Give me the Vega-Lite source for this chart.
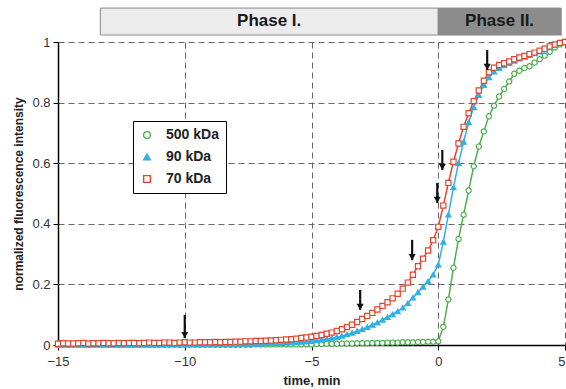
{
  "$schema": "https://vega.github.io/schema/vega-lite/v6.json",
  "width": 507,
  "height": 303,
  "autosize": {"type": "none"},
  "padding": {"left": 58, "top": 42, "right": 1, "bottom": 44},
  "background": "white",
  "config": {
    "view": {"stroke": null},
    "font": "Liberation Sans",
    "axis": {
      "labelFont": "Liberation Sans",
      "titleFont": "Liberation Sans",
      "labelFontSize": 13,
      "labelColor": "#333333",
      "titleColor": "#222222",
      "titleFontWeight": "bold",
      "domainColor": "#000000",
      "domainWidth": 1.5,
      "tickColor": "#000000",
      "tickWidth": 1,
      "tickSize": 5,
      "gridColor": "#666666",
      "gridDash": [6, 4],
      "gridWidth": 1,
      "gridOpacity": 1
    }
  },
  "datasets": {
    "curves": [
      {"t": -15, "500 kDa": 0.001, "90 kDa": 0.001, "70 kDa": 0.004},
      {"t": -14.8, "500 kDa": 0.001, "90 kDa": 0.001, "70 kDa": 0.006},
      {"t": -14.6, "500 kDa": 0.001, "90 kDa": 0.001, "70 kDa": 0.005},
      {"t": -14.4, "500 kDa": 0.001, "90 kDa": 0.001, "70 kDa": 0.005},
      {"t": -14.2, "500 kDa": 0.001, "90 kDa": 0.001, "70 kDa": 0.006},
      {"t": -14, "500 kDa": 0.001, "90 kDa": 0.001, "70 kDa": 0.007},
      {"t": -13.8, "500 kDa": 0.001, "90 kDa": 0.001, "70 kDa": 0.005},
      {"t": -13.6, "500 kDa": 0.001, "90 kDa": 0.001, "70 kDa": 0.006},
      {"t": -13.4, "500 kDa": 0.001, "90 kDa": 0.001, "70 kDa": 0.006},
      {"t": -13.2, "500 kDa": 0.001, "90 kDa": 0.001, "70 kDa": 0.007},
      {"t": -13, "500 kDa": 0.001, "90 kDa": 0.001, "70 kDa": 0.006},
      {"t": -12.8, "500 kDa": 0.001, "90 kDa": 0.001, "70 kDa": 0.006},
      {"t": -12.6, "500 kDa": 0.001, "90 kDa": 0.001, "70 kDa": 0.007},
      {"t": -12.4, "500 kDa": 0.001, "90 kDa": 0.001, "70 kDa": 0.006},
      {"t": -12.2, "500 kDa": 0.001, "90 kDa": 0.001, "70 kDa": 0.007},
      {"t": -12, "500 kDa": 0.001, "90 kDa": 0.001, "70 kDa": 0.007},
      {"t": -11.8, "500 kDa": 0.001, "90 kDa": 0.001, "70 kDa": 0.006},
      {"t": -11.6, "500 kDa": 0.001, "90 kDa": 0.001, "70 kDa": 0.007},
      {"t": -11.4, "500 kDa": 0.001, "90 kDa": 0.001, "70 kDa": 0.008},
      {"t": -11.2, "500 kDa": 0.001, "90 kDa": 0.001, "70 kDa": 0.007},
      {"t": -11, "500 kDa": 0.001, "90 kDa": 0.001, "70 kDa": 0.007},
      {"t": -10.8, "500 kDa": 0.001, "90 kDa": 0.002, "70 kDa": 0.008},
      {"t": -10.6, "500 kDa": 0.001, "90 kDa": 0.002, "70 kDa": 0.008},
      {"t": -10.4, "500 kDa": 0.001, "90 kDa": 0.002, "70 kDa": 0.007},
      {"t": -10.2, "500 kDa": 0.001, "90 kDa": 0.002, "70 kDa": 0.008},
      {"t": -10, "500 kDa": 0.001, "90 kDa": 0.002, "70 kDa": 0.009},
      {"t": -9.8, "500 kDa": 0.001, "90 kDa": 0.002, "70 kDa": 0.008},
      {"t": -9.6, "500 kDa": 0.001, "90 kDa": 0.002, "70 kDa": 0.008},
      {"t": -9.4, "500 kDa": 0.001, "90 kDa": 0.002, "70 kDa": 0.009},
      {"t": -9.2, "500 kDa": 0.001, "90 kDa": 0.002, "70 kDa": 0.009},
      {"t": -9, "500 kDa": 0.001, "90 kDa": 0.002, "70 kDa": 0.009},
      {"t": -8.8, "500 kDa": 0.001, "90 kDa": 0.002, "70 kDa": 0.01},
      {"t": -8.6, "500 kDa": 0.001, "90 kDa": 0.002, "70 kDa": 0.009},
      {"t": -8.4, "500 kDa": 0.001, "90 kDa": 0.002, "70 kDa": 0.01},
      {"t": -8.2, "500 kDa": 0.001, "90 kDa": 0.002, "70 kDa": 0.01},
      {"t": -8, "500 kDa": 0.001, "90 kDa": 0.002, "70 kDa": 0.011},
      {"t": -7.8, "500 kDa": 0.001, "90 kDa": 0.003, "70 kDa": 0.011},
      {"t": -7.6, "500 kDa": 0.001, "90 kDa": 0.003, "70 kDa": 0.012},
      {"t": -7.4, "500 kDa": 0.001, "90 kDa": 0.003, "70 kDa": 0.012},
      {"t": -7.2, "500 kDa": 0.002, "90 kDa": 0.003, "70 kDa": 0.013},
      {"t": -7, "500 kDa": 0.002, "90 kDa": 0.004, "70 kDa": 0.013},
      {"t": -6.8, "500 kDa": 0.002, "90 kDa": 0.005, "70 kDa": 0.014},
      {"t": -6.6, "500 kDa": 0.002, "90 kDa": 0.005, "70 kDa": 0.015},
      {"t": -6.4, "500 kDa": 0.002, "90 kDa": 0.006, "70 kDa": 0.016},
      {"t": -6.2, "500 kDa": 0.002, "90 kDa": 0.006, "70 kDa": 0.017},
      {"t": -6, "500 kDa": 0.002, "90 kDa": 0.007, "70 kDa": 0.018},
      {"t": -5.8, "500 kDa": 0.002, "90 kDa": 0.008, "70 kDa": 0.019},
      {"t": -5.6, "500 kDa": 0.002, "90 kDa": 0.009, "70 kDa": 0.021},
      {"t": -5.4, "500 kDa": 0.002, "90 kDa": 0.01, "70 kDa": 0.023},
      {"t": -5.2, "500 kDa": 0.002, "90 kDa": 0.011, "70 kDa": 0.025},
      {"t": -5, "500 kDa": 0.002, "90 kDa": 0.013, "70 kDa": 0.027},
      {"t": -4.8, "500 kDa": 0.003, "90 kDa": 0.015, "70 kDa": 0.03},
      {"t": -4.6, "500 kDa": 0.003, "90 kDa": 0.017, "70 kDa": 0.033},
      {"t": -4.4, "500 kDa": 0.004, "90 kDa": 0.02, "70 kDa": 0.037},
      {"t": -4.2, "500 kDa": 0.004, "90 kDa": 0.023, "70 kDa": 0.041},
      {"t": -4, "500 kDa": 0.004, "90 kDa": 0.026, "70 kDa": 0.046},
      {"t": -3.8, "500 kDa": 0.005, "90 kDa": 0.03, "70 kDa": 0.052},
      {"t": -3.6, "500 kDa": 0.005, "90 kDa": 0.035, "70 kDa": 0.059},
      {"t": -3.4, "500 kDa": 0.005, "90 kDa": 0.04, "70 kDa": 0.067},
      {"t": -3.2, "500 kDa": 0.006, "90 kDa": 0.046, "70 kDa": 0.076},
      {"t": -3, "500 kDa": 0.006, "90 kDa": 0.052, "70 kDa": 0.086},
      {"t": -2.8, "500 kDa": 0.006, "90 kDa": 0.059, "70 kDa": 0.096},
      {"t": -2.6, "500 kDa": 0.007, "90 kDa": 0.066, "70 kDa": 0.106},
      {"t": -2.4, "500 kDa": 0.007, "90 kDa": 0.074, "70 kDa": 0.117},
      {"t": -2.2, "500 kDa": 0.007, "90 kDa": 0.083, "70 kDa": 0.129},
      {"t": -2, "500 kDa": 0.008, "90 kDa": 0.092, "70 kDa": 0.141},
      {"t": -1.8, "500 kDa": 0.008, "90 kDa": 0.101, "70 kDa": 0.154},
      {"t": -1.6, "500 kDa": 0.008, "90 kDa": 0.111, "70 kDa": 0.169},
      {"t": -1.4, "500 kDa": 0.009, "90 kDa": 0.123, "70 kDa": 0.186},
      {"t": -1.2, "500 kDa": 0.009, "90 kDa": 0.138, "70 kDa": 0.206},
      {"t": -1, "500 kDa": 0.009, "90 kDa": 0.156, "70 kDa": 0.232},
      {"t": -0.8, "500 kDa": 0.01, "90 kDa": 0.174, "70 kDa": 0.26},
      {"t": -0.6, "500 kDa": 0.01, "90 kDa": 0.192, "70 kDa": 0.285},
      {"t": -0.4, "500 kDa": 0.011, "90 kDa": 0.21, "70 kDa": 0.312},
      {"t": -0.2, "500 kDa": 0.011, "90 kDa": 0.232, "70 kDa": 0.346},
      {"t": 0, "500 kDa": 0.012, "90 kDa": 0.265, "70 kDa": 0.39},
      {"t": 0.2, "500 kDa": 0.06, "90 kDa": 0.34, "70 kDa": 0.46},
      {"t": 0.4, "500 kDa": 0.15, "90 kDa": 0.43, "70 kDa": 0.535},
      {"t": 0.6, "500 kDa": 0.255, "90 kDa": 0.52, "70 kDa": 0.605},
      {"t": 0.8, "500 kDa": 0.35, "90 kDa": 0.6, "70 kDa": 0.665},
      {"t": 1, "500 kDa": 0.43, "90 kDa": 0.67, "70 kDa": 0.72},
      {"t": 1.2, "500 kDa": 0.51, "90 kDa": 0.735, "70 kDa": 0.765},
      {"t": 1.4, "500 kDa": 0.59, "90 kDa": 0.785, "70 kDa": 0.805},
      {"t": 1.6, "500 kDa": 0.655, "90 kDa": 0.825, "70 kDa": 0.84},
      {"t": 1.8, "500 kDa": 0.705, "90 kDa": 0.858, "70 kDa": 0.872},
      {"t": 2, "500 kDa": 0.755, "90 kDa": 0.883, "70 kDa": 0.9},
      {"t": 2.2, "500 kDa": 0.79, "90 kDa": 0.902, "70 kDa": 0.915},
      {"t": 2.4, "500 kDa": 0.82, "90 kDa": 0.914, "70 kDa": 0.924},
      {"t": 2.6, "500 kDa": 0.845, "90 kDa": 0.923, "70 kDa": 0.93},
      {"t": 2.8, "500 kDa": 0.87, "90 kDa": 0.93, "70 kDa": 0.936},
      {"t": 3, "500 kDa": 0.895, "90 kDa": 0.938, "70 kDa": 0.943},
      {"t": 3.2, "500 kDa": 0.905, "90 kDa": 0.945, "70 kDa": 0.949},
      {"t": 3.4, "500 kDa": 0.914, "90 kDa": 0.951, "70 kDa": 0.954},
      {"t": 3.6, "500 kDa": 0.92, "90 kDa": 0.957, "70 kDa": 0.96},
      {"t": 3.8, "500 kDa": 0.932, "90 kDa": 0.962, "70 kDa": 0.965},
      {"t": 4, "500 kDa": 0.943, "90 kDa": 0.968, "70 kDa": 0.971},
      {"t": 4.2, "500 kDa": 0.955, "90 kDa": 0.975, "70 kDa": 0.978},
      {"t": 4.4, "500 kDa": 0.968, "90 kDa": 0.982, "70 kDa": 0.985},
      {"t": 4.6, "500 kDa": 0.982, "90 kDa": 0.99, "70 kDa": 0.992},
      {"t": 4.8, "500 kDa": 0.992, "90 kDa": 0.996, "70 kDa": 0.997},
      {"t": 5, "500 kDa": 1, "90 kDa": 1, "70 kDa": 1}
    ],
    "arrows": [
      {"t": -10, "top": 0.099, "tip": 0.023},
      {"t": -3.08, "top": 0.182, "tip": 0.116},
      {"t": -1.03, "top": 0.347, "tip": 0.28},
      {"t": -0.04, "top": 0.535, "tip": 0.469},
      {"t": 0.16, "top": 0.644, "tip": 0.578},
      {"t": 1.93, "top": 0.974, "tip": 0.908}
    ],
    "phases": [
      {"phase": "Phase I.", "start": -13.33, "end": 0, "mid": -6.67},
      {"phase": "Phase II.", "start": 0, "end": 4.85, "mid": 2.42}
    ]
  },
  "layer": [
    {
      "data": {"name": "curves"},
      "transform": [{"fold": ["500 kDa", "90 kDa", "70 kDa"], "as": ["series", "value"]}],
      "layer": [
        {
          "mark": {"type": "line", "strokeWidth": 1.5},
          "encoding": {
            "x": {
              "field": "t", "type": "quantitative",
              "scale": {"domain": [-15, 5], "nice": false},
              "axis": {"values": [-15, -10, -5, 0, 5], "grid": true, "title": "time, min", "titleFontSize": 13, "labelPadding": 5, "titlePadding": 6, "labelFlush": false, "labelAlign": {"expr": "datum.value == 5 ? 'right' : 'center'"}}
            },
            "y": {
              "field": "value", "type": "quantitative",
              "scale": {"domain": [0, 1], "nice": false},
              "axis": {"values": [0, 0.2, 0.4, 0.6, 0.8, 1], "format": "~g", "grid": true, "title": "normalized fluorescence intensity", "titleFontSize": 12, "labelPadding": 3, "titlePadding": 6}
            },
            "stroke": {"field": "series", "type": "nominal", "scale": {"domain": ["500 kDa", "90 kDa", "70 kDa"], "range": ["#4faf4f", "#2fb0e6", "#e2452e"]}},
            "order": {"field": "t", "type": "quantitative"}
          }
        },
        {
          "mark": {"type": "point", "size": 27, "strokeWidth": 1.2, "opacity": 1},
          "encoding": {
            "x": {"field": "t", "type": "quantitative", "title": "time, min"},
            "y": {"field": "value", "type": "quantitative", "title": "normalized fluorescence intensity"},
            "stroke": {
              "field": "series", "type": "nominal",
              "scale": {"domain": ["500 kDa", "90 kDa", "70 kDa"], "range": ["#4faf4f", "#2fb0e6", "#e2452e"]},
              "legend": {
                "orient": "none", "legendX": 75, "legendY": 79, "title": null,
                "strokeColor": "#000000", "fillColor": "#ffffff", "padding": 7,
                "labelFont": "Liberation Sans", "labelFontWeight": "bold", "labelFontSize": 14, "labelColor": "#222222",
                "symbolSize": 45, "symbolStrokeWidth": 1.4, "labelOffset": 12, "rowPadding": 8
              }
            },
            "fill": {"field": "series", "type": "nominal", "scale": {"domain": ["500 kDa", "90 kDa", "70 kDa"], "range": ["#ffffff", "#2fb0e6", "#ffffff"]}, "legend": null},
            "shape": {"field": "series", "type": "nominal", "scale": {"domain": ["500 kDa", "90 kDa", "70 kDa"], "range": ["circle", "triangle-up", "square"]}, "legend": null}
          }
        }
      ]
    },
    {
      "data": {"name": "phases"},
      "transform": [{"filter": {"field": "phase", "equal": "Phase I."}}],
      "mark": {"type": "rect", "stroke": "#8a8a8a", "strokeWidth": 1, "fill": "#ececec"},
      "encoding": {
        "x": {"field": "start", "type": "quantitative", "title": "time, min"},
        "x2": {"field": "end"},
        "y": {"datum": 1.112, "type": "quantitative", "title": "normalized fluorescence intensity"},
        "y2": {"datum": 1.023}
      }
    },
    {
      "data": {"name": "phases"},
      "transform": [{"filter": {"field": "phase", "equal": "Phase II."}}],
      "mark": {"type": "rect", "stroke": "#8a8a8a", "strokeWidth": 1, "fill": "#8c8c8c"},
      "encoding": {
        "x": {"field": "start", "type": "quantitative", "title": "time, min"},
        "x2": {"field": "end"},
        "y": {"datum": 1.112, "type": "quantitative", "title": "normalized fluorescence intensity"},
        "y2": {"datum": 1.023}
      }
    },
    {
      "data": {"name": "phases"},
      "mark": {"type": "text", "fontSize": 17, "fontWeight": "bold", "color": "#1a1a1a", "baseline": "middle", "align": "center", "font": "Liberation Sans"},
      "encoding": {
        "x": {"field": "mid", "type": "quantitative", "title": "time, min"},
        "y": {"datum": 1.068, "type": "quantitative", "title": "normalized fluorescence intensity"},
        "text": {"field": "phase"}
      }
    },
    {
      "data": {"name": "arrows"},
      "mark": {"type": "rule", "strokeWidth": 2.2, "color": "#111111"},
      "encoding": {
        "x": {"field": "t", "type": "quantitative", "title": "time, min"},
        "y": {"field": "top", "type": "quantitative", "title": "normalized fluorescence intensity"},
        "y2": {"field": "tip"}
      }
    },
    {
      "data": {"name": "arrows"},
      "mark": {"type": "point", "shape": "triangle-down", "filled": true, "size": 50, "color": "#111111", "opacity": 1, "yOffset": -3},
      "encoding": {
        "x": {"field": "t", "type": "quantitative", "title": "time, min"},
        "y": {"field": "tip", "type": "quantitative", "title": "normalized fluorescence intensity"}
      }
    }
  ]
}
